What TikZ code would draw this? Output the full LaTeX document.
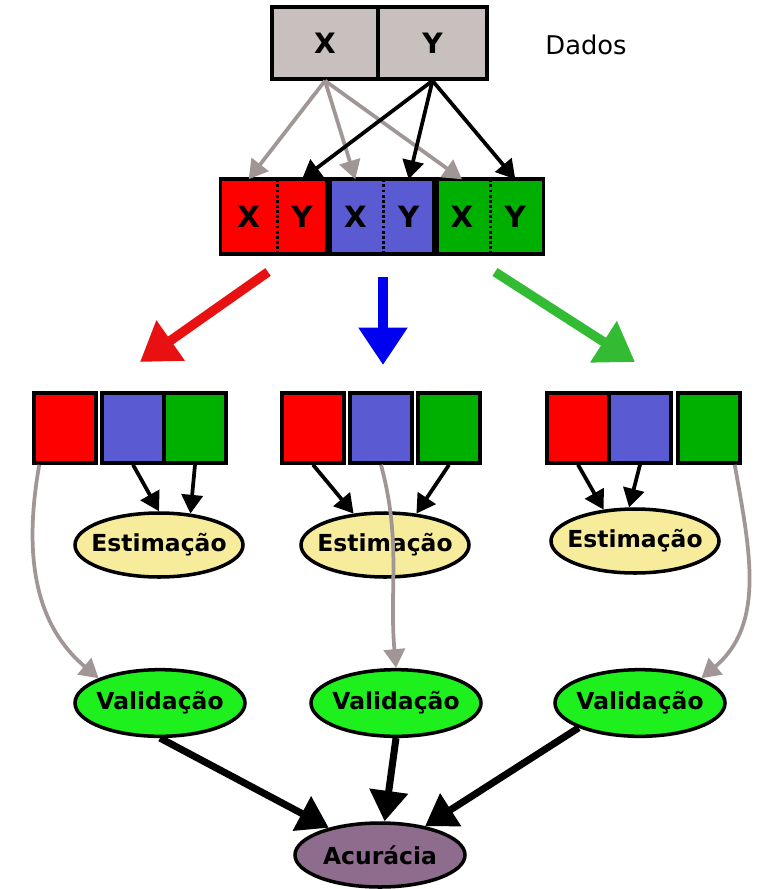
\documentclass[tikz,border=0pt]{standalone}
\usepackage{fontspec}
\setmainfont{DejaVu Sans}
\usetikzlibrary{shapes.geometric,arrows.meta}

\definecolor{dados}{HTML}{C8BFBF}
\definecolor{vermelho}{HTML}{FF0000}
\definecolor{azul}{HTML}{5A5AD2}
\definecolor{verde}{HTML}{00B000}
\definecolor{estfill}{HTML}{F7EC9B}
\definecolor{valfill}{HTML}{1EF01E}
\definecolor{acfill}{HTML}{8E6C8E}
\definecolor{cinza}{HTML}{A09696}

\begin{document}
\begin{tikzpicture}
  [x=0.03cm,y=-0.03cm,font=\bfseries\fontsize{20}{23}\selectfont,
   every node/.style={draw,line width=3pt,inner sep=0pt}]
  \tikzstyle{cell} = [rectangle,minimum width=1.86cm,minimum height=2.1cm]
  \tikzstyle{half} = [rectangle,draw=none,minimum width=1.6cm,minimum height=2.13cm,
                      font=\bfseries\fontsize{25}{28}\selectfont]
  \tikzstyle{blob} = [ellipse,inner xsep=-8pt,minimum width=5.04cm,minimum height=1.92cm]
  \tikzstyle{fino} = [line width=3.2pt,-{Triangle[length=16pt,width=18pt]}]
  \tikzstyle{curva} = [fino,cinza]
  \tikzstyle{grosso} = [line width=8pt,-{Triangle[length=32pt,width=40pt]}]
  \tikzstyle{final} = [line width=6pt,-{Triangle[length=26pt,width=32pt]}]
  \useasboundingbox (0,0) rectangle (769,889);

  % dados
  \node[fill=dados,minimum width=3.18cm,minimum height=2.16cm,
        font=\bfseries\fontsize{24}{27}\selectfont] (X) at (325,43) {X};
  \node[fill=dados,minimum width=3.27cm,minimum height=2.16cm,
        font=\bfseries\fontsize{24}{27}\selectfont] (Y) at (432.5,43) {Y};
  \node[draw=none,font=\fontsize{22}{25}\selectfont] (dados) at (586,45) {Dados};

  % folds
  \node[half,fill=vermelho] (rX) at (248.7,216.5) {X};
  \node[half,fill=vermelho] (rY) at (302,216.5) {Y};
  \node[half,fill=azul] (bX) at (355.3,216.5) {X};
  \node[half,fill=azul] (bY) at (408.7,216.5) {Y};
  \node[half,fill=verde] (gX) at (462,216.5) {X};
  \node[half,fill=verde] (gY) at (515.3,216.5) {Y};
\foreach \a/\b in {rX/rY,bX/bY,gX/gY} {
   \draw[line width=3pt] (\a.north west) rectangle (\b.south east);
   \draw[line width=2.4pt,dotted] (\a.north east) -- (\a.south east);
}
\foreach \dest in {rX,bX,gX}
   \draw[fino,cinza] (X.south) -- (\dest.north);
\foreach \dest in {rY,bY,gY}
   \draw[fino] (Y.south) -- (\dest.north);

  % big arrows
  \coordinate (rs) at (268,272);
  \coordinate (re) at (140,362);
  \coordinate (bs) at (383,277);
  \coordinate (be) at (383,365);
  \coordinate (gs) at (495,272);
  \coordinate (ge) at (635,362);
  \draw[grosso,color={rgb,255:red,232;green,16;blue,16}] (rs) -- (re);
  \draw[grosso,color={rgb,255:red,0;green,0;blue,240}] (bs) -- (be);
  \draw[grosso,color={rgb,255:red,51;green,187;blue,51}] (gs) -- (ge);

  % three groups
  \node[cell,fill=vermelho] (r1) at (65,428) {};
  \node[cell,fill=azul] (b1) at (133,428) {};
  \node[cell,fill=verde] (g1) at (195,428) {};
  \node[cell,fill=vermelho] (r2) at (313,428) {};
  \node[cell,fill=azul] (b2) at (381,428) {};
  \node[cell,fill=verde] (g2) at (449,428) {};
  \node[cell,fill=vermelho] (r3) at (578,428) {};
  \node[cell,fill=azul] (b3) at (640,428) {};
  \node[cell,fill=verde] (g3) at (709,428) {};

  \node[blob,fill=estfill] (E1) at (159,545) {Estimação};
  \node[blob,fill=estfill] (E2) at (385,545) {Estimação};
  \node[blob,fill=estfill] (E3) at (635,541) {Estimação};

  \node[blob,fill=valfill,minimum width=5.1cm,minimum height=2cm] (V1) at (160,703) {Validação};
  \node[blob,fill=valfill,minimum width=5.1cm,minimum height=2cm] (V2) at (396,703) {Validação};
  \node[blob,fill=valfill,minimum width=5.1cm,minimum height=2cm] (V3) at (640,703) {Validação};

  \node[blob,fill=acfill,minimum width=5.1cm] (Ac) at (380,855) {Acurácia};

  \draw[fino] (b1.south) -- (E1.north);
  \draw[fino] (g1.south) -- (E1.45);
  \draw[fino] (r2.south) -- (E2.135);
  \draw[fino] (g2.south) -- (E2.45);
  \draw[fino] (r3.south) -- (E3.135);
  \draw[fino] (b3.south) -- (E3.100);

  \draw[curva] ([xshift=6pt]r1.south west) to[out=-100,in=140] (V1.north west);
  \draw[curva] (b2.south) to[out=-75,in=95] (V2.north);
  \draw[curva] ([xshift=-6pt]g3.south east) to[out=-80,in=40] (V3.north east);

  \draw[final] (V1.south) -- (Ac);
  \draw[final] (V2.south) -- (Ac);
  \draw[final] (V3.south west) -- (Ac);

\end{tikzpicture}
\end{document}
